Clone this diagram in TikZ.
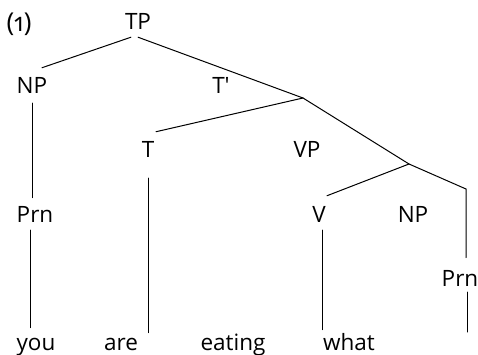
\documentclass[tikz,border=0pt]{standalone}
\usepackage{fontspec}
\setmainfont[Numbers=OldStyle]{Open Sans}
\begin{document}
\begin{tikzpicture}[
		x=1pt, y=-1pt,
		rotulo/.style={
			inner sep=0pt,
			anchor=base,
			font=\fontsize{22.5}{26}\selectfont
		},
		galho/.style={
			line width=1pt,
			line cap=round
		}
		]
		\useasboundingbox (0,0) rectangle (478,355);
		
		\node[rotulo, font=\fontsize{26}{30}\selectfont] (num) at (19,32) {(1)};
		\node[rotulo] (TP) at (138,30) {TP};
		\node[rotulo] (NP1) at (32,94) {NP};
		\node[rotulo] (Tbar) at (221,94) {T\textquotesingle};
		\node[rotulo] (T) at (148,158) {T};
		\node[rotulo] (VP) at (307,158) {VP};
		\node[rotulo] (Prn1) at (35,222) {Prn};
		\node[rotulo] (V) at (319,222) {V};
		\node[rotulo] (NP2) at (413,222) {NP};
		\node[rotulo] (Prn2) at (460,286) {Prn};
		
		\node[rotulo] (you) at (36,350) {you};
		\node[rotulo] (are) at (121,350) {are};
		\node[rotulo] (eating) at (233,350) {eating};
		\node[rotulo] (what) at (349,350) {what};
		
		% pontos de ramificacao
		\coordinate (bT) at (303,98);
		\coordinate (bVP) at (409,164);
		\coordinate (dobra) at (466,189);
		\coordinate (vestigio) at (467,332);
		
		%Linhas
		\draw[galho] ([xshift=-7pt,yshift=-7pt]TP.south) -- ([xshift=10pt,yshift=10pt]NP1.north);
		\draw[galho] ([yshift=-7pt]TP.south) -- (bT);
		\draw[galho] (bT) -- ([xshift=8pt,yshift=10pt]T.north);
		\draw[galho] (bT) -- (bVP);
		\draw[galho] (bVP) -- ([xshift=8pt,yshift=10pt]V.north);
		\draw[galho] (bVP) -- (dobra) -- ([xshift=6pt,yshift=12pt]Prn2.north);
		\draw[galho] ([yshift=-9pt]NP1.south) -- ([xshift=-3pt,yshift=8pt]Prn1.north);
		\draw[galho] ([xshift=-5pt,yshift=-8pt]Prn1.south) -- ([xshift=-6pt,yshift=10pt]you.north);
		\draw[galho] ([yshift=-20pt]T.south) -- ([xshift=27pt,yshift=5pt]are.north);
		\draw[galho] ([xshift=3pt,yshift=-8pt]V.south) -- ([xshift=-27pt,yshift=3pt]what.north);
		\draw[galho] ([xshift=7pt,yshift=-6pt]Prn2.south) -- (vestigio);
		
	\end{tikzpicture}
\end{document}
